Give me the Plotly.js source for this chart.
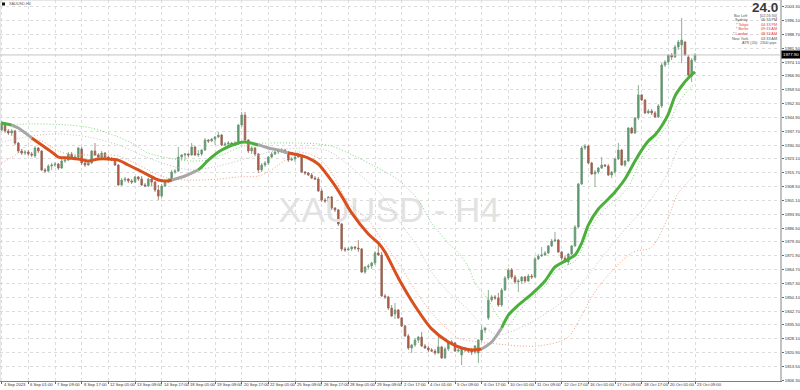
<!DOCTYPE html>
<html><head><meta charset="utf-8">
<script src="https://cdn.plot.ly/plotly-3.0.1.min.js"></script>
<style>html,body{margin:0;padding:0;background:#fff}#chart{width:800px;height:390px}</style>
</head><body><div id="chart"></div>
<script>
// ---------- DATA (XAUUSD H4) ----------
const opens=[1938.3,1942.0,1937.8,1936.7,1937.8,1931.4,1927.2,1926.1,1926.7,1925.6,
1924.6,1928.8,1927.2,1917.2,1916.6,1919.3,1919.8,1920.3,1918.2,1921.9,
1922.4,1925.6,1923.5,1924.0,1928.3,1920.9,1919.8,1920.9,1927.2,1925.1,
1924.0,1926.1,1924.0,1923.0,1922.4,1919.8,1909.3,1911.9,1912.4,1911.4,
1910.8,1913.5,1912.4,1909.3,1908.7,1912.4,1910.8,1906.6,1903.4,1908.7,
1911.4,1911.9,1916.1,1916.6,1924.0,1925.1,1925.6,1925.1,1929.3,1925.1,
1925.6,1927.7,1933.0,1932.5,1933.5,1934.6,1935.6,1930.4,1930.9,1931.4,
1930.4,1931.4,1940.9,1946.2,1933.0,1927.2,1928.8,1925.6,1917.2,1919.8,
1920.9,1924.0,1925.6,1926.7,1927.2,1927.7,1926.7,1922.4,1923.0,1924.0,
1924.6,1916.1,1915.6,1914.5,1912.9,1912.4,1906.1,1901.3,1900.8,1902.9,
1897.1,1896.1,1888.7,1875.5,1875.0,1875.5,1876.5,1876.0,1875.5,1863.3,
1866.0,1866.5,1868.1,1873.4,1872.3,1850.7,1850.2,1844.3,1841.2,1843.3,
1839.1,1834.8,1829.6,1823.2,1824.8,1827.4,1829.0,1824.3,1823.2,1822.2,
1821.6,1820.6,1823.8,1818.0,1822.7,1826.4,1825.9,1821.6,1819.5,1823.2,
1822.2,1821.6,1821.1,1820.6,1827.4,1832.7,1839.1,1848.6,1850.2,1849.6,
1845.9,1853.8,1860.2,1864.4,1860.7,1858.1,1858.6,1860.7,1858.6,1861.2,
1860.7,1870.2,1871.8,1872.3,1873.4,1877.1,1879.7,1880.2,1873.9,1870.7,
1868.6,1872.8,1877.1,1887.1,1909.8,1928.8,1929.8,1920.9,1915.1,1916.1,
1918.2,1919.8,1919.3,1914.5,1916.1,1923.0,1927.7,1919.8,1921.9,1939.3,
1936.7,1944.6,1956.8,1954.1,1947.3,1948.3,1947.3,1945.2,1951.0,1972.6,
1974.2,1977.9,1976.8,1982.1,1983.2,1984.7,1976.8,1966.8,1975.2];
const highs=[1943.0,1942.5,1938.8,1938.8,1938.3,1931.9,1928.3,1927.7,1927.7,1926.7,
1929.8,1929.3,1927.7,1918.2,1920.3,1920.9,1921.4,1920.9,1923.0,1923.5,
1926.7,1926.7,1925.1,1929.3,1929.3,1921.4,1921.9,1927.7,1931.4,1926.1,
1927.2,1926.7,1924.6,1924.0,1923.0,1920.3,1912.9,1913.5,1912.9,1912.4,
1914.0,1914.0,1914.0,1910.3,1912.9,1912.9,1911.4,1909.3,1909.8,1911.9,
1912.9,1917.2,1917.7,1929.3,1925.6,1926.1,1926.1,1931.4,1929.8,1927.7,
1928.3,1934.1,1933.5,1934.1,1935.1,1937.2,1936.2,1931.9,1932.5,1931.9,
1932.5,1941.5,1947.8,1947.8,1933.5,1929.8,1929.3,1926.1,1920.9,1921.9,
1924.6,1926.7,1927.7,1928.3,1928.8,1928.3,1927.2,1924.0,1925.1,1926.1,
1925.1,1916.6,1916.1,1915.6,1914.0,1913.5,1907.2,1902.4,1903.4,1903.4,
1897.6,1896.6,1889.2,1876.5,1876.5,1877.1,1877.1,1880.2,1876.0,1866.5,
1867.6,1868.6,1874.4,1878.1,1873.9,1851.7,1850.7,1845.9,1847.0,1843.8,
1839.6,1835.4,1830.6,1825.3,1828.5,1829.6,1831.7,1825.3,1824.3,1823.2,
1822.7,1829.0,1824.3,1823.8,1826.9,1827.4,1826.4,1823.2,1823.8,1823.8,
1823.2,1823.2,1824.8,1828.0,1834.8,1834.3,1853.8,1851.2,1851.2,1852.3,
1854.9,1861.2,1865.4,1865.4,1861.8,1859.6,1861.2,1861.2,1862.3,1862.3,
1871.3,1872.8,1876.5,1874.4,1877.6,1880.8,1884.5,1880.8,1874.4,1871.8,
1873.4,1877.6,1888.1,1910.3,1929.8,1930.9,1930.4,1921.4,1917.2,1918.8,
1924.0,1920.3,1920.3,1916.6,1923.5,1931.4,1928.3,1922.4,1939.9,1939.9,
1945.2,1962.0,1957.3,1954.6,1949.4,1949.4,1948.3,1952.0,1973.6,1975.2,
1978.4,1978.9,1983.2,1985.8,1997.4,1985.3,1977.9,1976.3,1978.9];
const lows=[1937.8,1936.7,1935.6,1935.1,1930.4,1926.1,1925.1,1925.1,1924.6,1924.0,
1923.5,1926.1,1916.6,1915.6,1916.1,1917.2,1918.8,1917.2,1917.7,1920.9,
1921.9,1923.0,1922.4,1922.4,1919.8,1918.8,1919.3,1920.3,1924.6,1923.5,
1923.5,1923.0,1921.9,1921.9,1919.3,1908.7,1908.7,1910.8,1910.3,1909.8,
1910.3,1911.4,1908.7,1908.2,1908.2,1908.7,1905.6,1901.3,1902.4,1908.2,
1910.3,1911.4,1915.1,1916.1,1922.4,1922.4,1924.0,1924.6,1924.6,1924.0,
1924.6,1927.2,1931.4,1931.9,1930.4,1934.1,1929.8,1929.8,1929.8,1929.8,
1930.4,1930.4,1939.9,1931.4,1926.1,1925.6,1924.6,1915.6,1916.1,1918.8,
1919.8,1923.5,1925.1,1925.6,1926.1,1925.6,1921.4,1921.9,1921.4,1923.5,
1915.6,1914.5,1914.0,1912.4,1911.9,1905.6,1900.3,1899.8,1899.8,1896.1,
1895.0,1887.6,1874.4,1873.9,1874.4,1874.4,1875.0,1873.9,1862.8,1862.3,
1864.9,1864.9,1867.0,1871.8,1850.2,1849.1,1843.3,1839.6,1838.5,1838.5,
1834.3,1829.0,1822.2,1820.6,1823.8,1825.9,1823.8,1822.7,1821.1,1821.1,
1819.5,1820.1,1817.4,1817.4,1821.6,1825.3,1821.1,1821.1,1814.2,1821.1,
1820.6,1819.5,1820.1,1815.3,1826.4,1831.1,1838.0,1847.5,1848.6,1844.9,
1844.9,1853.3,1859.1,1859.6,1857.0,1852.8,1857.0,1857.5,1858.1,1859.6,
1860.2,1869.7,1871.3,1871.8,1872.8,1876.5,1879.2,1873.4,1869.7,1868.1,
1867.0,1872.3,1876.5,1886.6,1909.3,1927.7,1920.3,1914.5,1908.2,1915.1,
1917.7,1918.8,1914.0,1912.9,1915.1,1922.4,1919.3,1918.8,1921.4,1936.2,
1936.2,1943.6,1953.6,1946.7,1946.7,1946.2,1944.6,1944.6,1949.9,1971.5,
1972.6,1975.2,1976.3,1980.5,1973.6,1977.3,1965.7,1963.6,1974.2];
const closes=[1942.0,1937.8,1936.7,1937.8,1931.4,1927.2,1926.1,1926.7,1925.6,1925.1,
1928.8,1927.2,1917.2,1916.6,1919.3,1919.8,1920.3,1918.2,1921.9,1922.4,
1925.6,1923.5,1924.0,1928.8,1920.9,1919.8,1920.9,1927.2,1925.1,1924.0,
1926.1,1924.0,1923.0,1922.4,1919.8,1909.3,1911.9,1912.4,1911.4,1910.8,
1913.5,1912.4,1909.3,1908.7,1912.4,1910.8,1906.6,1903.4,1908.7,1911.4,
1911.9,1916.1,1916.6,1924.0,1925.1,1925.6,1925.1,1929.3,1925.1,1925.6,
1927.7,1933.0,1932.5,1933.5,1934.6,1935.6,1930.4,1930.9,1931.4,1930.4,
1931.4,1940.9,1946.2,1933.0,1927.2,1928.8,1925.6,1917.2,1919.8,1920.9,
1924.0,1925.6,1926.7,1927.2,1927.7,1926.7,1922.4,1923.0,1924.0,1924.6,
1916.1,1915.6,1914.5,1912.9,1912.4,1906.1,1901.3,1900.8,1902.9,1897.1,
1896.1,1888.7,1875.5,1875.0,1875.5,1876.5,1876.0,1875.5,1863.3,1866.0,
1866.5,1868.1,1873.4,1872.3,1850.7,1850.2,1844.3,1840.1,1843.3,1839.1,
1834.8,1829.6,1823.2,1824.8,1827.4,1829.0,1824.3,1823.2,1822.2,1821.6,
1820.6,1823.8,1818.0,1822.7,1826.4,1825.9,1821.6,1822.2,1823.2,1822.2,
1821.6,1821.1,1824.3,1827.4,1832.7,1833.8,1848.6,1850.2,1849.6,1845.9,
1853.8,1860.2,1864.4,1860.7,1858.1,1858.6,1860.7,1858.6,1861.2,1860.7,
1870.2,1871.8,1872.3,1873.4,1877.1,1879.7,1880.2,1873.9,1870.7,1869.1,
1872.8,1877.1,1887.1,1909.8,1928.8,1929.8,1920.9,1915.1,1916.1,1918.2,
1919.8,1919.3,1914.5,1916.1,1923.0,1927.7,1919.8,1921.9,1939.3,1936.7,
1944.6,1956.8,1954.1,1947.3,1948.3,1947.3,1945.2,1951.0,1972.6,1974.2,
1977.9,1976.8,1982.1,1984.7,1985.8,1977.9,1967.3,1975.2,1977.9];

// x-axis labels (one every 8 bars)
const xTickLabels=["4 Sep 2023","6 Sep 01:00","7 Sep 09:00","8 Sep 17:00","12 Sep 01:00","13 Sep 09:00","14 Sep 17:00","18 Sep 01:00","19 Sep 09:00","20 Sep 17:00","22 Sep 01:00","25 Sep 09:00","26 Sep 17:00","28 Sep 01:00","29 Sep 09:00","2 Oct 17:00","4 Oct 01:00","5 Oct 09:00","6 Oct 17:00","10 Oct 01:00","11 Oct 09:00","12 Oct 17:00","16 Oct 01:00","17 Oct 09:00","18 Oct 17:00","20 Oct 01:00","23 Oct 09:00"];
const xTickEvery=8;
// price-scale labels
const yTickLabels=["1806.30","1813.50","1820.90","1828.10","1835.50","1842.70","1850.10","1857.30","1864.70","1871.90","1879.30","1886.50","1893.90","1901.10","1908.50","1915.70","1923.10","1930.30","1937.70","1944.90","1952.30","1959.50","1966.90","1974.10","1981.50","1988.70","1996.10","2003.30"];

// coloured trend line (bar index, value)
const maIdx=[0,3,5,9,12,15,17,20,23,26,29,32,35,38,41,44,47,50,51,55,59,60,62,66,71,73,77,80,83,86,89,92,95,99,102,105,110,113,115,119,124,129,134,138,141,144,147,150,152,155,159,163,166,169,172,174,176,179,182,184,187,190,192,194,196,198,200,202,204,206,208];
const maVal=[1942.0,1940.9,1939.3,1934.1,1930.4,1926.7,1924.0,1923.5,1923.0,1921.9,1923.0,1923.0,1922.4,1919.8,1917.2,1914.5,1911.9,1911.4,1911.9,1914.0,1917.2,1918.8,1922.4,1927.7,1931.4,1931.9,1930.4,1928.8,1927.7,1926.1,1925.1,1923.5,1920.3,1911.4,1903.4,1894.5,1883.4,1878.6,1873.9,1860.2,1845.4,1833.3,1826.4,1823.2,1822.2,1822.7,1826.4,1833.8,1840.6,1845.9,1851.7,1858.6,1866.0,1869.1,1872.3,1878.6,1888.1,1896.6,1901.9,1905.6,1912.4,1921.9,1927.7,1932.5,1935.6,1940.4,1946.7,1956.2,1961.5,1965.7,1968.9];
const maSegStart=[0,3,9,51,59,77,86,144,150,208];
const maSegState=["up","flat","down","flat","up","flat","down","flat","up"];

// dotted band lines
const bandUpIdx=[0,9,20,27,35,39,44,50,57,62,66,71,75,80,89,95,99,104,114,119,125,129,134,137,140,142,146,149,152,155,159,163,166,169,172,174,176,179,182,185,188,192,196,200,203,206,208];
const bandUpVal=[1940.9,1941.5,1940.9,1939.3,1934.6,1931.4,1926.1,1923.5,1921.9,1922.4,1925.1,1928.8,1930.9,1931.4,1931.4,1930.9,1929.8,1926.1,1917.2,1911.9,1901.3,1889.2,1878.6,1873.4,1866.0,1857.5,1848.6,1839.6,1835.4,1842.2,1849.6,1856.0,1863.3,1866.5,1869.1,1875.0,1883.9,1892.9,1898.2,1902.4,1908.2,1923.5,1931.9,1941.5,1952.5,1959.4,1962.6];
const bandMidIdx=[0,9,17,26,35,44,52,57,65,74,83,92,98,104,114,119,125,129,134,140,144,149,159,169,174,179,185,194,200,203,208];
const bandMidVal=[1931.9,1935.1,1936.2,1934.6,1930.4,1923.5,1918.8,1917.2,1919.3,1923.5,1927.7,1928.8,1927.2,1919.8,1904.0,1890.8,1876.0,1863.3,1852.8,1843.3,1835.4,1830.1,1837.0,1848.6,1857.5,1868.6,1881.8,1899.8,1916.1,1928.8,1938.3];
const bandLowIdx=[0,5,9,12,15,17,20,26,32,35,38,41,44,47,50,55,60,65,71,77,80,83,86,89,95,99,104,110,114,119,125,129,134,137,143,149,155,161,167,170,179,189,195,200,203,208];
const bandLowVal=[1920.9,1926.1,1932.5,1932.5,1929.3,1927.2,1925.6,1925.1,1925.1,1924.6,1922.4,1919.8,1917.2,1914.5,1912.9,1911.9,1911.9,1912.4,1913.5,1914.0,1916.1,1919.8,1923.5,1926.7,1923.5,1915.6,1899.8,1890.8,1880.2,1868.1,1851.2,1841.7,1832.7,1828.5,1826.4,1825.3,1824.3,1824.3,1826.4,1829.0,1855.4,1873.4,1876.5,1892.4,1905.0,1914.5];

// info panel
const bigValue="24.0";
const infoLabels=["Bar Left","Sydney","* Tokyo","* Berlin","* London","New York"];
const infoValues=["[02:26:30]","06:33 PM","04:33 PM","09:33 AM","08:33 AM","03:33 AM"];
const infoAlert=[false,false,true,true,true,false];
const atrText="ATR (20):";
const atrValue="2300 pips";
const symbolText="XAUUSD,H4";
const watermarkText="XAUUSD - H4";

// ---------- BUILD ----------
const idx=closes.map((_,i)=>i);
const W=780,H=381;
const xRange=[-0.5,233.5], yRange=[1805.8,2006.9];
const px=v=>v/W, py=v=>1-v/H;
const FONT="Liberation Sans, Arial, sans-serif";
const stateColor={up:"#4caf3c",down:"#d9501e",flat:"#a6a6a6"};

const traces=[];
traces.push({type:"scatter",mode:"text",
  x:[xRange[0]+(xRange[1]-xRange[0])*389/W],
  y:[yRange[1]-(yRange[1]-yRange[0])*213/H],
  text:[watermarkText],textposition:"middle center",
  textfont:{family:FONT,size:35,color:"#e2e2e2"},hoverinfo:"skip",showlegend:false});
function dotted(xs,ys,color){
  traces.push({type:"scatter",mode:"lines",x:xs,y:ys,
    line:{color:color,width:1,dash:"1px,2px",shape:"spline",smoothing:0.8},hoverinfo:"skip",showlegend:false});
}
dotted(bandUpIdx,bandUpVal,"#7fd67f");
dotted(bandMidIdx,bandMidVal,"#c2c2c2");
dotted(bandLowIdx,bandLowVal,"#f29f80");

traces.push({type:"candlestick",x:idx,open:opens,high:highs,low:lows,close:closes,
  increasing:{line:{color:"#6e9a78",width:0.8},fillcolor:"#55976a"},
  decreasing:{line:{color:"#97695c",width:0.8},fillcolor:"#b6533b"},
  whiskerwidth:0,hoverinfo:"skip",showlegend:false});

for(let k=0;k<maSegState.length;k++){
  const a=maSegStart[k],b=maSegStart[k+1];
  const xs=[],ys=[];
  maIdx.forEach((v,j)=>{if(v>=a&&v<=b){xs.push(v);ys.push(maVal[j]);}});
  traces.push({type:"scatter",mode:"lines",x:xs,y:ys,
    line:{color:stateColor[maSegState[k]],width:3,shape:"spline",smoothing:0.7},
    hoverinfo:"skip",showlegend:false});
}

const tickIdx=xTickLabels.map((_,i)=>i*xTickEvery);
const yTickVals=yTickLabels.map(s=>parseFloat(s));
const last=closes[closes.length-1];

const SMALL=3.8;
const ann=[];
// time-scale labels, left-aligned at their tick like the terminal draws them
xTickLabels.forEach((t,i)=>{
  ann.push({xref:"x",yref:"paper",x:tickIdx[i],y:py(384.6),xanchor:"left",yanchor:"middle",xshift:1,
    showarrow:false,borderpad:0,text:t,font:{family:FONT,size:4.2,color:"#333"}});
});
ann.push({xref:"paper",yref:"paper",x:px(7),y:py(4.2),xanchor:"left",yanchor:"middle",showarrow:false,
  text:symbolText,font:{family:FONT,size:SMALL,color:"#555"}});
ann.push({xref:"paper",yref:"paper",x:px(779),y:py(7.6),xanchor:"right",yanchor:"middle",showarrow:false,borderpad:0,
  text:"<b>"+bigValue+"</b>",font:{family:FONT,size:13.5,color:"#3a3a3a"}});
const lineY=[15.6,20.2,24.8,29.4,34.0,38.6];
infoLabels.forEach((t,i)=>{
  const c=infoAlert[i]?"#e8392f":"#555";
  ann.push({xref:"paper",yref:"paper",x:px(749),y:py(lineY[i]),xanchor:"right",yanchor:"middle",showarrow:false,borderpad:0,
    text:t,font:{family:FONT,size:SMALL,color:c}});
  ann.push({xref:"paper",yref:"paper",x:px(778),y:py(lineY[i]),xanchor:"right",yanchor:"middle",showarrow:false,borderpad:0,
    text:infoValues[i],font:{family:FONT,size:SMALL,color:c}});
});
ann.push({xref:"paper",yref:"paper",x:px(759),y:py(43.2),xanchor:"right",yanchor:"middle",showarrow:false,borderpad:0,
  text:atrText,font:{family:FONT,size:SMALL,color:"#555"}});
ann.push({xref:"paper",yref:"paper",x:px(778),y:py(43.2),xanchor:"right",yanchor:"middle",showarrow:false,borderpad:0,
  text:atrValue,font:{family:FONT,size:SMALL,color:"#555"}});
ann.push({xref:"paper",yref:"y",x:1+1/W,y:last,xanchor:"left",yanchor:"middle",showarrow:false,
  text:last.toFixed(2),bgcolor:"#000",borderpad:1,font:{family:FONT,size:4.3,color:"#fff"}});

const shapes=[
  {type:"line",xref:"paper",yref:"y",x0:0,x1:1,y0:last,y1:last,line:{color:"#c4c4c4",width:1}},
  {type:"rect",xref:"paper",yref:"paper",x0:px(2),x1:px(5),y0:py(5.5),y1:py(2.5),fillcolor:"#111",line:{width:0}},
  {type:"line",xref:"paper",yref:"paper",x0:0,x1:1,y0:1,y1:1,line:{color:"#cfcfcf",width:1}},
  {type:"line",xref:"paper",yref:"paper",x0:0,x1:0,y0:0,y1:1,line:{color:"#cfcfcf",width:1}}
];

const layout={width:800,height:390,margin:{l:0,r:20,t:0,b:9,pad:0},
  paper_bgcolor:"#fff",plot_bgcolor:"#fff",showlegend:false,
  xaxis:{type:"linear",range:xRange,tickmode:"array",tickvals:tickIdx,ticktext:xTickLabels,
    showticklabels:false,ticks:"outside",ticklen:2,tickcolor:"#666",
    showgrid:true,gridcolor:"#dcdcdc",griddash:"dot",gridwidth:1,
    showline:true,linecolor:"#808080",linewidth:1,zeroline:false,
    rangeslider:{visible:false},fixedrange:true},
  yaxis:{side:"right",range:yRange,tickmode:"array",tickvals:yTickVals,ticktext:yTickLabels,
    tickfont:{family:FONT,size:4.2,color:"#333"},ticks:"outside",ticklen:2,tickcolor:"#666",
    showgrid:true,gridcolor:"#dcdcdc",griddash:"dot",gridwidth:1,
    showline:true,linecolor:"#c2c2c2",linewidth:2,zeroline:false,fixedrange:true},
  annotations:ann,shapes:shapes};

Plotly.newPlot("chart",traces,layout,{staticPlot:true,displayModeBar:false});
</script>
</body></html>
